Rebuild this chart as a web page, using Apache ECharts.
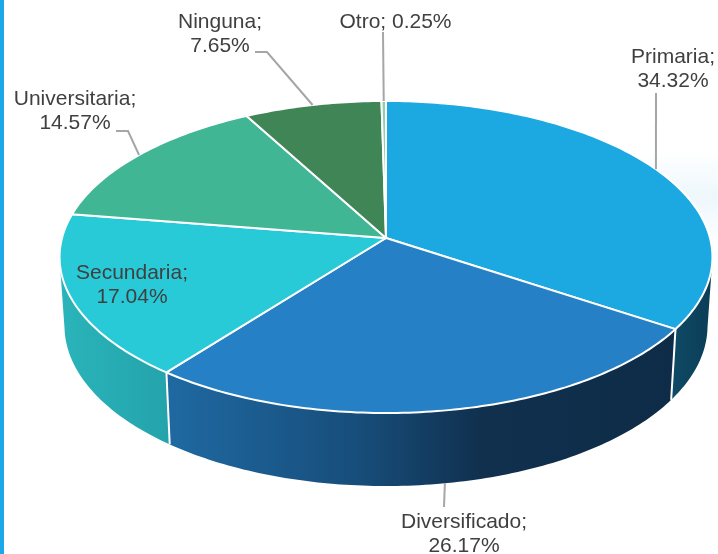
<!DOCTYPE html>
<html>
<head>
<meta charset="utf-8">
<title>Nivel educativo</title>
<script src="https://cdn.jsdelivr.net/npm/echarts@6/dist/echarts.min.js"></script>
<style>
  html, body { margin: 0; padding: 0; background: #fff; }
  #main { width: 718px; height: 554px; }
</style>
</head>
<body>
<div id="main"></div>
<script>
var categories = ['Primaria', 'Diversificado', 'Secundaria', 'Universitaria', 'Ninguna', 'Otro'];
var percents = [34.32, 26.17, 17.04, 14.57, 7.65, 0.25];

var topColors = ['#1ca8e0', '#2580c5', '#29cad8', '#40b694', '#3f8555', '#8fcfae'];
// wall shading, left to right
var wallStops = [
  [[0, '#0e4a66'], [1, '#0c3d56']],
  [[0, '#1f69a2'], [0.38, '#174d7a'], [0.62, '#10304e'], [1, '#0e2c47']],
  [[0, '#2ab4ba'], [1, '#24a3ab']],
  [[0, '#40b694'], [1, '#40b694']],
  [[0, '#3f8555'], [1, '#3f8555']],
  [[0, '#8fcfae'], [1, '#8fcfae']]
];

// label centres and where the leader line leaves the text
var labelLayout = [
  { x: 673, y: 69, leader: [[656, 93]] },
  { x: 464, y: 534, leader: [[444, 507]], onWall: true },
  { x: 132, y: 285 },
  { x: 75, y: 111, leader: [[116, 131], [128, 131]] },
  { x: 220, y: 34, leader: [[255, 52], [267, 52]] },
  { x: 395.5, y: 22, leader: [[383, 32]], oneLine: true }
];

// pie geometry: a flat disc seen in perspective
var cx = 386, cy = 238;
var radiusX = 324, radiusY = 153.7, persp = 0.1218;
var textColor = '#404040', leaderColor = '#a6a6a6';

var starts = [];
var sum = 0;
for (var i = 0; i < percents.length; i++) {
  starts[i] = sum;
  sum += percents[i];
}

function project(pct) {
  var a = pct / sum * Math.PI * 2;
  var u = Math.sin(a), v = -Math.cos(a);
  var d = 1 - persp * v;
  return [cx + radiusX * u / d, cy + radiusY * v / d, v];
}

function lower(p) {
  return [cx + (p[0] - cx) * 0.985, p[1] + 68 + 5 * p[2]];
}

function arcPoints(from, to) {
  var pts = [];
  var n = Math.max(2, Math.ceil((to - from) / 0.25));
  for (var k = 0; k <= n; k++) {
    pts.push(project(from + (to - from) * k / n));
  }
  return pts;
}

function renderWall(params, api) {
  var i = api.value(1);
  var from = starts[i], to = from + api.value(0);
  var pts = arcPoints(from, to).filter(function (p) { return p[2] >= persp; });
  if (pts.length < 2) return { type: 'group', children: [] };
  var outline = pts.map(function (p) { return [p[0], p[1]]; });
  var bottom = pts.map(lower).reverse();
  var xs = outline.concat(bottom).map(function (p) { return p[0]; });
  var children = [{
    type: 'polygon',
    shape: { points: outline.concat(bottom) },
    style: {
      fill: {
        type: 'linear', global: true,
        x: Math.min.apply(null, xs), y: 0, x2: Math.max.apply(null, xs), y2: 0,
        colorStops: wallStops[i].map(function (s) { return { offset: s[0], color: s[1] }; })
      }
    }
  }];
  // white seam where this slice's wall begins
  var first = project(from);
  if (first[2] >= persp) {
    var low = lower(first);
    children.push({
      type: 'line',
      shape: { x1: first[0], y1: first[1], x2: low[0], y2: low[1] },
      style: { stroke: '#fff', lineWidth: 2 }
    });
  }
  return { type: 'group', children: children };
}

function renderTop(params, api) {
  var i = api.value(1);
  var from = starts[i], value = api.value(0);
  var points = [[cx, cy]].concat(arcPoints(from, from + value).map(function (p) { return [p[0], p[1]]; }));
  return {
    type: 'polygon',
    shape: { points: points },
    style: { fill: topColors[i], stroke: '#fff', lineWidth: 2, lineJoin: 'round' }
  };
}

function renderLabel(params, api) {
  var i = api.value(1);
  var value = api.value(0);
  var pos = labelLayout[i];
  var children = [{
    type: 'text',
    style: {
      text: categories[i] + (pos.oneLine ? '; ' : ';\n') + value.toFixed(2) + '%',
      x: pos.x, y: pos.y,
      align: 'center', verticalAlign: 'middle',
      font: '21px "Liberation Sans", Arial, sans-serif',
      lineHeight: 24.5,
      fill: textColor
    }
  }];
  if (pos.leader) {
    var mid = project(starts[i] + value / 2);
    var end = pos.onWall ? lower(mid) : [mid[0], mid[1]];
    children.push({
      type: 'polyline',
      shape: { points: pos.leader.concat([end]) },
      style: { fill: 'none', stroke: leaderColor, lineWidth: 2 }
    });
  }
  return { type: 'group', children: children };
}

var chart = echarts.init(document.getElementById('main'), null, { renderer: 'canvas' });
var seriesData = percents.map(function (v, i) { return { name: categories[i], value: [v, i] }; });

var option = {
  backgroundColor: '#ffffff',
  animation: false,
  graphic: [
    { type: 'rect', shape: { x: 0, y: 0, width: 4, height: 554 }, style: { fill: '#1ca8e8' } },
    {
      // faint tint behind the right edge of the pie
      type: 'rect', shape: { x: 640, y: 150, width: 78, height: 95 },
      style: {
        fill: {
          type: 'linear', x: 0, y: 0, x2: 0, y2: 1,
          colorStops: [{ offset: 0, color: '#ffffff' }, { offset: 0.5, color: '#eef7fc' }, { offset: 1, color: '#ffffff' }]
        }
      }
    }
  ],
  series: [
    { type: 'custom', coordinateSystem: 'none', renderItem: renderWall, data: seriesData, silent: true, z: 3 },
    { type: 'custom', coordinateSystem: 'none', renderItem: renderTop, data: seriesData, silent: true, z: 4 },
    { type: 'custom', coordinateSystem: 'none', renderItem: renderLabel, data: seriesData, silent: true, z: 5 }
  ]
};
chart.setOption(option);
</script>
</body>
</html>
